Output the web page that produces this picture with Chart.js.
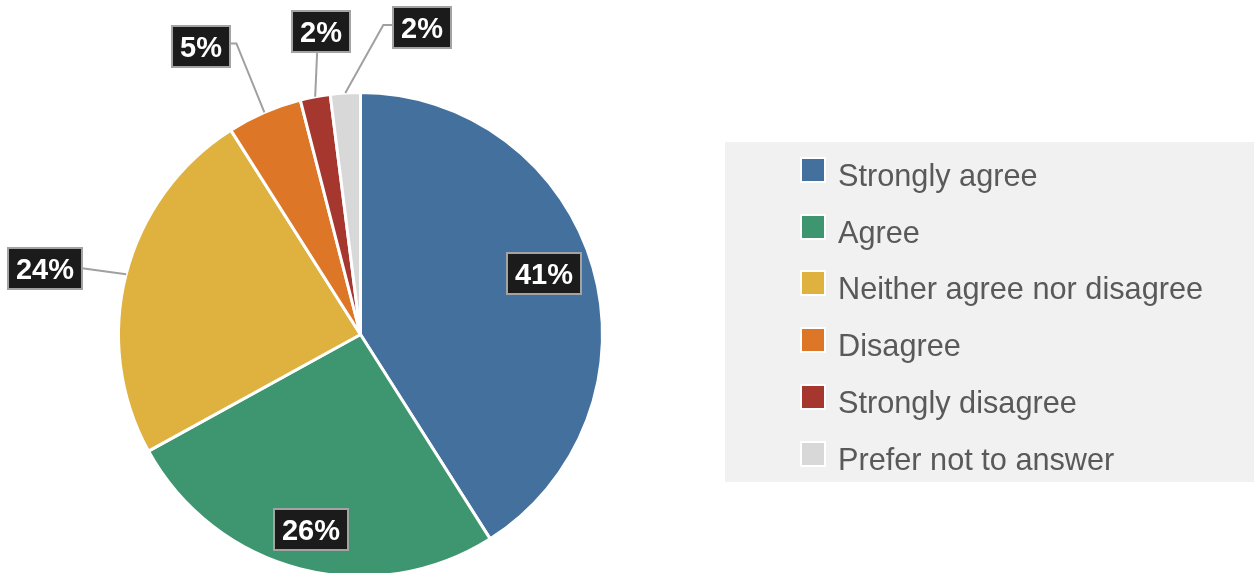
<!DOCTYPE html>
<html>
<head>
<meta charset="utf-8">
<title>Survey responses</title>
<script src="https://cdn.jsdelivr.net/npm/chart.js@4.4.1/dist/chart.umd.min.js"></script>
<style>
  html, body { margin: 0; padding: 0; background: #ffffff; overflow: hidden; }
  #wrap { position: absolute; left: 0; top: 0; width: 1254px; height: 573px; overflow: hidden; }
  canvas { display: block; }
</style>
</head>
<body>
<div id="wrap"><canvas id="pie" width="1254" height="600"></canvas></div>
<script>
// Response categories and their share of answers (percent)
const categories = [
  'Strongly agree',
  'Agree',
  'Neither agree nor disagree',
  'Disagree',
  'Strongly disagree',
  'Prefer not to answer'
];
const shares = [41, 26, 24, 5, 2, 2];
const sliceColors = ['#44709e', '#3e9670', '#dfb13e', '#dd7627', '#a6372f', '#d8d8d8'];

// Callout placement for each slice label: inside the slice, or outside with a leader line.
// Offsets are relative to the slice's outer edge point on its bisector.
const calloutLayout = [
  { inside: true, radiusFactor: 0.8, angleShift: -0.04 },
  { inside: true, radiusFactor: 0.83, angleShift: 0 },
  { inside: false, dx: -81, dy: -6, attach: 'right' },
  { inside: false, dx: -63, dy: -66, attach: 'right', elbow: 6 },
  { inside: false, dx: 6, dy: -65, attach: 'bottom' },
  { inside: false, dx: 77, dy: -65, attach: 'left', elbow: 10 }
];

const LABEL_FONT = 'bold 29px "Liberation Sans", Arial, sans-serif';
const LEGEND_FONT = '30.7px "Liberation Sans", Arial, sans-serif';
const BOX_PAD = 16;
const BOX_H = 41;

function drawLabelBox(ctx, cx, cy, text) {
  ctx.font = LABEL_FONT;
  const w = Math.round(ctx.measureText(text).width + BOX_PAD);
  const x = Math.round(cx - w / 2), y = Math.round(cy - BOX_H / 2);
  ctx.fillStyle = '#1b1b1b';
  ctx.fillRect(x, y, w, BOX_H);
  ctx.strokeStyle = '#a3a3a3';
  ctx.lineWidth = 2;
  ctx.strokeRect(x, y, w, BOX_H);
  ctx.fillStyle = '#ffffff';
  ctx.textAlign = 'center';
  ctx.textBaseline = 'middle';
  ctx.fillText(text, x + w / 2, y + BOX_H / 2 + 2);
}

const sliceLabels = {
  id: 'sliceLabels',
  afterDatasetsDraw(chart) {
    const ctx = chart.ctx;
    const meta = chart.getDatasetMeta(0);
    const values = chart.data.datasets[0].data;
    const total = values.reduce((a, b) => a + b, 0);
    ctx.save();
    meta.data.forEach((arc, i) => {
      const p = arc.getProps(['x', 'y', 'startAngle', 'endAngle', 'outerRadius'], true);
      const mid = (p.startAngle + p.endAngle) / 2;
      const text = Math.round(values[i] / total * 100) + '%';
      const lay = calloutLayout[i];
      if (lay.inside) {
        const r = p.outerRadius * lay.radiusFactor;
        const a = mid + lay.angleShift;
        drawLabelBox(ctx, p.x + Math.cos(a) * r, p.y + Math.sin(a) * r, text);
        return;
      }
      const ex = p.x + Math.cos(mid) * p.outerRadius;
      const ey = p.y + Math.sin(mid) * p.outerRadius;
      ctx.font = LABEL_FONT;
      const w = Math.round(ctx.measureText(text).width + BOX_PAD);
      const cx = ex + lay.dx, cy = ey + lay.dy;
      let ax, ay;
      if (lay.attach === 'right') { ax = cx + w / 2; ay = cy; }
      else if (lay.attach === 'left') { ax = cx - w / 2; ay = cy; }
      else { ax = ex + 2; ay = cy + BOX_H / 2; }
      ctx.strokeStyle = '#a0a0a0';
      ctx.lineWidth = 2;
      ctx.beginPath();
      ctx.moveTo(ex, ey);
      if (lay.elbow) {
        const bx = lay.attach === 'right' ? ax + lay.elbow : ax - lay.elbow;
        ctx.lineTo(bx, ay - 3);
        ctx.lineTo(ax, ay - 3);
      } else {
        ctx.lineTo(ax, ay);
      }
      ctx.stroke();
      drawLabelBox(ctx, cx, cy, text);
    });
    ctx.restore();
  }
};

const sideLegend = {
  id: 'sideLegend',
  afterDraw(chart) {
    const ctx = chart.ctx;
    const colors = chart.data.datasets[0].backgroundColor;
    ctx.save();
    ctx.fillStyle = '#f1f1f1';
    ctx.fillRect(725, 142, 529, 340);
    const rowStep = 56.7;
    chart.data.labels.forEach((label, i) => {
      const top = Math.round(159 + i * rowStep);
      ctx.fillStyle = '#ffffff';
      ctx.fillRect(800, top - 2, 26, 26);
      ctx.fillStyle = colors[i];
      ctx.fillRect(802, top, 22, 22);
      ctx.font = LEGEND_FONT;
      ctx.fillStyle = '#595959';
      ctx.textAlign = 'left';
      ctx.textBaseline = 'alphabetic';
      ctx.fillText(label, 838, top + 27);
    });
    ctx.restore();
  }
};

new Chart(document.getElementById('pie'), {
  type: 'pie',
  data: {
    labels: categories,
    datasets: [{
      data: shares,
      backgroundColor: sliceColors,
      borderColor: '#ffffff',
      borderWidth: 3
    }]
  },
  options: {
    responsive: false,
    animation: false,
    layout: { padding: { left: 117, right: 650, top: 91, bottom: 22 } },
    plugins: {
      legend: { display: false },
      tooltip: { enabled: false }
    }
  },
  plugins: [sliceLabels, sideLegend]
});
</script>
</body>
</html>
